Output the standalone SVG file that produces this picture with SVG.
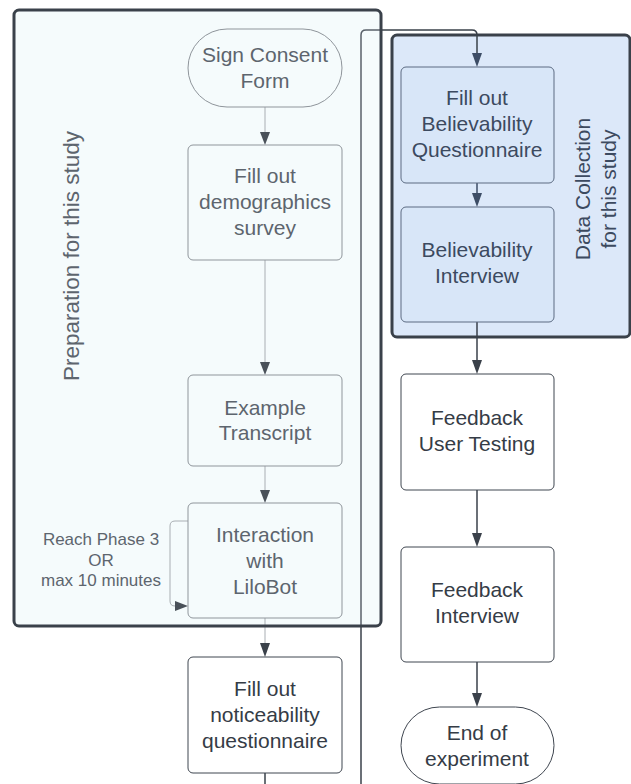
<svg xmlns="http://www.w3.org/2000/svg" width="631" height="784" viewBox="0 0 631 784">
<defs>
<style>
text{font-family:"Liberation Sans",Arial,sans-serif;font-size:21px;text-anchor:middle;dominant-baseline:central}
.in text{fill:#5d656e}
.in rect{fill:#f5fbfc;stroke:#8f959b;stroke-width:1}
.out text{fill:#353c46}
.out rect{fill:#ffffff;stroke:#3f4650;stroke-width:1}
.dc text{fill:#3c4a60}
.dc rect{fill:#d8e6f8;stroke:#5c6b82;stroke-width:1}
.lc{fill:none;stroke:#a9aeb3;stroke-width:1}
.dk{fill:none;stroke:#3a414a;stroke-width:1.5}
.bl{fill:none;stroke:#3d4d66;stroke-width:1.5}
.sm{font-size:17px}
</style>
</defs>
<rect width="631" height="784" fill="#ffffff"/>
<g id="prep-container">
<rect x="14" y="10" width="367" height="616" rx="5" fill="#f5fbfc" stroke="none"/>
<text x="71" y="256" transform="rotate(-90 71 256)" fill="#5d656e" style="font-size:22.5px">Preparation for this study</text>
</g>
<g id="data-container">
<rect x="392" y="35" width="238" height="302" rx="5" fill="#dce8f9" stroke="#3a414a" stroke-width="3"/>
<text x="582" y="189" transform="rotate(-90 582 189)" fill="#3c4a60">Data Collection</text>
<text x="608" y="189" transform="rotate(-90 608 189)" fill="#3c4a60">for this study</text>
</g>
<g id="connectors">
<path class="lc" d="M265,107 V133"/><path d="M260,132 H270 L265,145 Z" fill="#4a5159"/>
<path class="lc" d="M265,260 V362"/><path d="M260,362 H270 L265,375 Z" fill="#4a5159"/>
<path class="lc" d="M265,466 V490"/><path d="M260,490 H270 L265,503 Z" fill="#4a5159"/>
<path class="lc" d="M188,521 H175 Q170,521 170,526 V601 Q170,606 175,606 H176"/><path d="M175,601 V611 L188,606 Z" fill="#4a5159"/>
<path class="lc" d="M265,618 V644"/><path d="M260,643 H270 L265,657 Z" fill="#3a414a"/>
<path class="dk" d="M265,773 V800 H361"/>
<path d="M361,800 V626" fill="none" stroke="#3a414a" stroke-width="1.5"/>
<path d="M361,626 V35 Q361,30 366,30 H381" fill="none" stroke="#59616a" stroke-width="1.5"/>
<path class="dk" d="M381,30 H472 Q477,30 477,35 V54"/><path d="M472,53 H482 L477,67 Z" fill="#3d4d66"/>
<path class="bl" d="M477,183 V194"/><path d="M472,193 H482 L477,207 Z" fill="#3d4d66"/>
<path class="dk" d="M477,322 V361"/><path d="M472,360 H482 L477,374 Z" fill="#3a414a"/>
<path class="dk" d="M477,490 V534"/><path d="M472,533 H482 L477,547 Z" fill="#3a414a"/>
<path class="dk" d="M477,662 V694"/><path d="M472,693 H482 L477,707 Z" fill="#3a414a"/>
</g>
<g id="sign-consent" class="in">
<rect x="188" y="29" width="154" height="78" rx="39"/>
<text x="265" y="54">Sign Consent</text><text x="265" y="80">Form</text>
</g>
<g id="demographics" class="in">
<rect x="188" y="145" width="154" height="115" rx="5"/>
<text x="265" y="175">Fill out</text><text x="265" y="201">demographics</text><text x="265" y="227">survey</text>
</g>
<g id="example-transcript" class="in">
<rect x="188" y="375" width="154" height="91" rx="5"/>
<text x="265" y="407">Example</text><text x="265" y="432">Transcript</text>
</g>
<g id="interaction" class="in">
<rect x="188" y="503" width="154" height="115" rx="5"/>
<text x="265" y="534">Interaction</text><text x="265" y="560">with</text><text x="265" y="586">LiloBot</text>
</g>
<g id="loop-label" class="in">
<text class="sm" x="101" y="539">Reach Phase 3</text>
<text class="sm" x="101" y="560">OR</text>
<text class="sm" x="101" y="580">max 10 minutes</text>
</g>
<g id="prep-border">
<rect x="14" y="10" width="367" height="616" rx="5" fill="none" stroke="#3a414a" stroke-width="3"/>
</g>
<g id="noticeability" class="out">
<rect x="188" y="657" width="154" height="116" rx="5"/>
<text x="265" y="688">Fill out</text><text x="265" y="714">noticeability</text><text x="265" y="740">questionnaire</text>
</g>
<g id="believability-questionnaire" class="dc">
<rect x="401" y="67" width="153" height="116" rx="5"/>
<text x="477" y="97">Fill out</text><text x="477" y="123">Believability</text><text x="477" y="149">Questionnaire</text>
</g>
<g id="believability-interview" class="dc">
<rect x="401" y="207" width="153" height="115" rx="5"/>
<text x="477" y="249">Believability</text><text x="477" y="275">Interview</text>
</g>
<g id="feedback-user-testing" class="out">
<rect x="401" y="374" width="153" height="116" rx="5"/>
<text x="477" y="417">Feedback</text><text x="477" y="443">User Testing</text>
</g>
<g id="feedback-interview" class="out">
<rect x="401" y="547" width="153" height="115" rx="5"/>
<text x="477" y="589">Feedback</text><text x="477" y="615">Interview</text>
</g>
<g id="end" class="out">
<rect x="401" y="707" width="153" height="77" rx="38.5"/>
<text x="477" y="732">End of</text><text x="477" y="758">experiment</text>
</g>
</svg>
